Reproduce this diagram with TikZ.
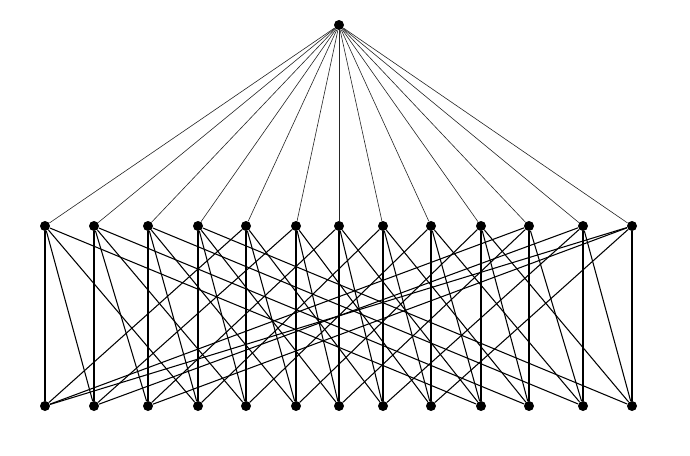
\documentclass[tikz,border=0pt]{standalone}
\begin{document}
\begin{tikzpicture}[x=0.02cm,y=-0.02cm,
  dot/.style={circle,fill=black,inner sep=0pt,minimum size=0.2cm},
  upedge/.style={line width=0.35pt,black!85},
  lowedge/.style={line width=0.6pt,black}]
\useasboundingbox (0,0) rectangle (690,456);
\node[dot] (t) at (339,25) {};
\foreach \i/\x in {0/45,1/94,2/148,3/198,4/246,5/296,6/339,7/383,8/431,9/481,10/529,11/583,12/632}{
  \node[dot] (m\i) at (\x,226) {};
  \node[dot] (b\i) at (\x,406) {};
}
\begin{scope}[on background layer/.style={}]
\foreach \i in {0,...,12}{
  \draw[upedge] (t) -- (m\i);
  \foreach \d in {0,1,3,9}{
    \pgfmathtruncatemacro{\j}{mod(\i+\d,13)}
    \draw[lowedge] (m\i) -- (b\j);
  }
}
\end{scope}
\end{tikzpicture}
\end{document}
